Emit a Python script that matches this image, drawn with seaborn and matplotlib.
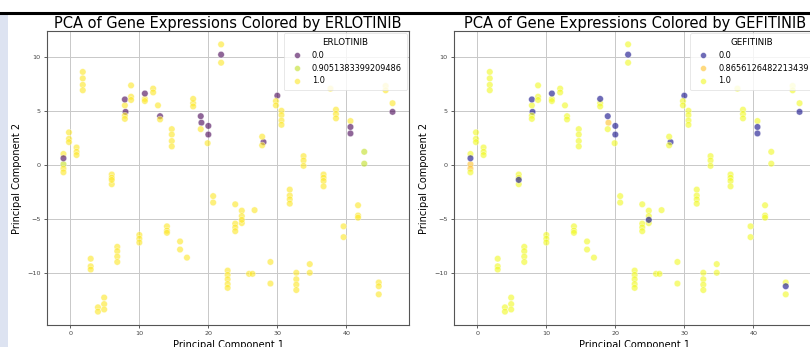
import numpy as np
import pandas as pd
import matplotlib
matplotlib.use("Agg")
import matplotlib.pyplot as plt
import seaborn as sns
from matplotlib.patches import Rectangle
from matplotlib.lines import Line2D

E_MID = 0.9051383399209486
G_MID = 0.8656126482213439

# Principal components (olive-looking, partly covered points first)
pc1 = [8.0, 13.0, 19.0, 28.0, 30.0, 20.0, 20.0,
       -1.0, -1.0, -1.0, -1.0, -1.0,
       -0.2, -0.2, -0.2,
       0.9, 0.9, 0.9,
       1.8, 1.8, 1.8, 1.8,
       6.0, 6.0, 6.0, 6.0,
       7.9, 7.9, 7.9, 7.9,
       8.8, 8.8, 8.8,
       10.8, 10.8, 10.8,
       12.0, 12.0, 12.7, 13.0,
       14.7, 14.7, 14.7, 14.7,
       17.8, 17.8, 17.8,
       18.9, 18.9, 19.9,
       21.85, 21.85, 21.85,
       20.7, 20.7,
       2.95, 2.95, 2.95,
       4.0, 4.0,
       4.9, 4.9, 4.9,
       6.8, 6.8, 6.8, 6.8,
       10.0, 10.0, 10.0,
       14.0, 14.0, 14.0,
       15.9, 15.9, 16.9,
       22.8, 22.8, 22.8, 22.8, 22.8,
       23.9, 23.9, 23.9, 23.9,
       24.85, 24.85, 24.85, 24.85,
       26.7, 25.9, 26.4,
       29.0, 29.0,
       31.8, 31.8, 31.8, 31.8,
       32.75, 32.75, 32.75, 32.75,
       34.7, 34.7,
       39.6, 39.6,
       41.7, 41.7, 41.7,
       44.7, 44.7, 44.7,
       27.8, 27.8,
       29.8, 29.8,
       30.6, 30.6, 30.6, 30.6,
       33.8, 33.8, 33.8,
       36.7, 36.7, 36.7, 36.7,
       37.7,
       38.5, 38.5, 38.5,
       40.6, 40.6, 40.6,
       42.6, 42.6,
       45.7, 45.7,
       46.7, 46.7]

pc2 = [4.9, 4.5, 3.9, 2.1, 6.4, 2.8, 3.6,
       1.0, 0.05, -0.35, -0.7, 0.6,
       3.0, 2.4, 2.1,
       1.6, 1.2, 0.9,
       8.6, 8.0, 7.4, 6.9,
       -0.9, -1.2, -1.8, -1.4,
       5.5, 4.55, 4.25, 6.05,
       7.35, 6.3, 6.0,
       6.1, 5.9, 6.6,
       7.05, 6.7, 5.5, 4.2,
       3.3, 2.8, 2.2, 1.7,
       5.7, 5.4, 6.1,
       3.3, 4.5, 2.0,
       11.15, 9.45, 10.2,
       -2.9, -3.5,
       -8.7, -9.4, -9.7,
       -13.2, -13.6,
       -12.3, -12.9, -13.4,
       -7.6, -8.0, -8.5, -9.0,
       -6.5, -6.85, -7.2,
       -5.7, -6.1, -6.3,
       -7.1, -7.85, -8.6,
       -9.8, -10.2, -10.6, -11.05, -11.4,
       -3.66, -5.45, -5.8, -6.15,
       -4.25, -4.75, -5.4, -5.1,
       -4.2, -10.1, -10.1,
       -9.0, -11.0,
       -2.3, -2.85, -3.2, -3.6,
       -10.0, -10.6, -11.1, -11.6,
       -9.2, -10.0,
       -5.7, -6.7,
       -3.75, -4.7, -4.9,
       -10.9, -12.0, -11.25,
       2.6, 1.8,
       5.9, 5.5,
       5.0, 4.6, 4.1, 3.7,
       0.8, 0.4, -0.1,
       -0.9, -1.2, -1.5, -2.0,
       7.05,
       5.1, 4.7, 4.3,
       4.05, 3.5, 2.9,
       1.2, 0.1,
       7.3, 6.9,
       5.7, 4.9]

n = len(pc1)
erlotinib = [1.0] * n
gefitinib = [1.0] * n

# ERLOTINIB = 0.0 points
erl_zero = [(8.0, 4.9), (13.0, 4.5), (19.0, 3.9), (28.0, 2.1), (30.0, 6.4), (20.0, 2.8), (20.0, 3.6),
            (-1.0, 0.6), (7.9, 6.05), (10.8, 6.6), (18.9, 4.5), (21.85, 10.2),
            (40.6, 3.5), (40.6, 2.9), (46.7, 4.9)]
erl_mid = [(-1.0, 0.05), (42.6, 1.2), (42.6, 0.1)]
# GEFITINIB = 0.0 points
gef_zero = [(8.0, 4.9), (28.0, 2.1), (30.0, 6.4), (20.0, 2.8), (20.0, 3.6),
            (-1.0, 0.6), (6.0, -1.4), (7.9, 6.05), (10.8, 6.6), (17.8, 6.1), (18.9, 4.5),
            (21.85, 10.2), (24.85, -5.1), (44.7, -11.25), (40.6, 3.5), (40.6, 2.9), (46.7, 4.9)]
gef_mid = [(19.0, 3.9), (-1.0, 0.05), (-1.0, -0.35)]

for i, (a, b) in enumerate(zip(pc1, pc2)):
    if (a, b) in erl_zero:
        erlotinib[i] = 0.0
    if (a, b) in erl_mid:
        erlotinib[i] = E_MID
    if (a, b) in gef_zero:
        gefitinib[i] = 0.0
    if (a, b) in gef_mid:
        gefitinib[i] = G_MID

df = pd.DataFrame({"PC1": pc1, "PC2": pc2, "ERLOTINIB": erlotinib, "GEFITINIB": gefitinib})

fig = plt.figure(figsize=(8.10, 3.47), dpi=100)
fig.patch.set_facecolor("white")

ax1 = fig.add_axes([47 / 810, (347 - 325) / 347, 362 / 810, 294 / 347])
ax2 = fig.add_axes([454 / 810, (347 - 325) / 347, 362 / 810, 294 / 347])

for ax, drug, pal in [(ax1, "ERLOTINIB", "viridis"), (ax2, "GEFITINIB", "plasma")]:
    sns.scatterplot(data=df, x="PC1", y="PC2", hue=drug, palette=pal, alpha=0.6,
                    s=22, edgecolor="white", linewidth=0.4, ax=ax)
    ax.set_title(f"PCA of Gene Expressions Colored by {drug}", fontsize=10.5, pad=2)
    ax.set_xlabel("Principal Component 1", fontsize=7, labelpad=3)
    ax.set_ylabel("Principal Component 2", fontsize=7, labelpad=4)
    ax.grid(True, color="#c8c8c8", linewidth=0.7)
    ax.set_axisbelow(True)
    ax.tick_params(labelsize=4.6, length=2.5, width=0.6, pad=2, colors="#444444")
    for sp in ax.spines.values():
        sp.set_color("#555555")
        sp.set_linewidth(0.8)
    leg = ax.legend(title=drug, loc="upper right", fontsize=5.9, title_fontsize=6.3,
                    frameon=True, framealpha=0.8, borderpad=0.6, labelspacing=0.45,
                    handletextpad=0.8, markerscale=0.9, borderaxespad=0.3)
    leg.get_frame().set_edgecolor("#dddddd")
    leg.get_frame().set_linewidth(0.6)

# screenshot border elements
fig.add_artist(Rectangle((0, 0), 7.5 / 810, (347 - 14.5) / 347, transform=fig.transFigure,
                         facecolor="#dde3f1", edgecolor="none", zorder=10))
fig.add_artist(Line2D([0, 1], [1 - 13 / 347, 1 - 13 / 347], transform=fig.transFigure,
                      color="black", linewidth=2.2, zorder=10))

fig.savefig("out.png", dpi=100)
